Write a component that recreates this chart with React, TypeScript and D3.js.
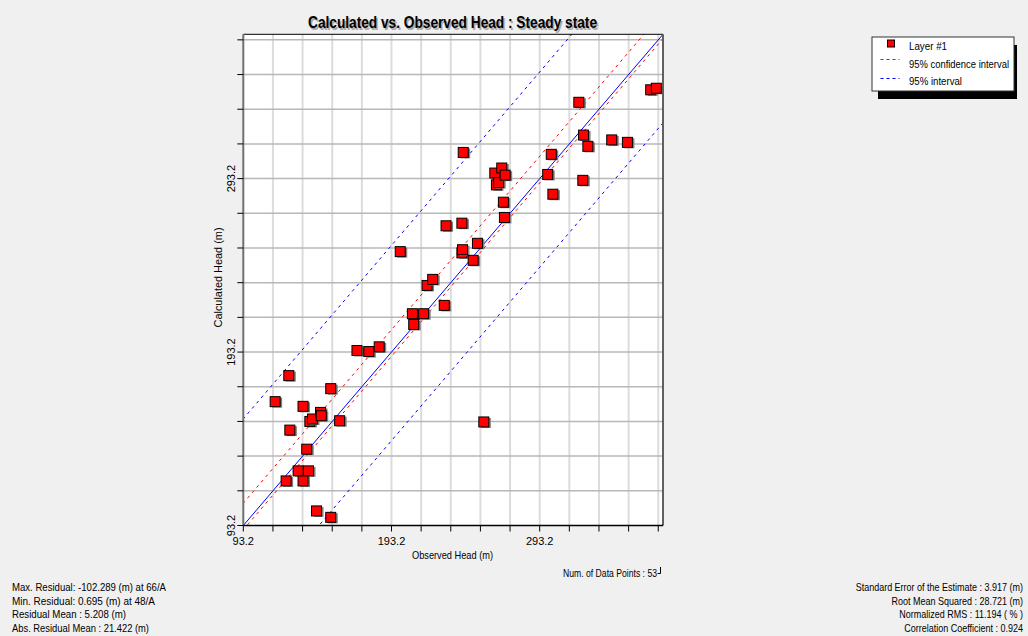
import React from "react";
import * as d3 from "d3";

const observed = [
  114.7, 123.9, 124.6, 133.5, 136.0, 138.1, 139.9, 145.3, 145.8, 152.2,
  158.2, 130.2, 137.2, 122.1, 133.5, 142.6, 152.2, 169.9, 177.9, 184.9,
  199.1, 207.3, 208.2, 214.9, 217.2, 221.0, 228.8, 230.0, 240.7, 240.7,
  241.1, 241.6, 248.3, 251.2, 255.5, 262.9, 264.0, 265.5, 267.6, 269.9,
  268.7, 269.4, 298.6, 301.0, 302.1, 319.6, 322.8, 322.3, 325.7, 341.8,
  352.4, 368.1, 371.9,
];
const calculated = [
  164.6, 179.6, 148.2, 161.9, 137.2, 153.2, 154.6, 158.4, 156.5, 172.1,
  153.6, 124.7, 124.7, 118.9, 118.9, 101.6, 97.9, 194.1, 193.5, 196.2,
  251.1, 215.3, 209.1, 215.3, 231.6, 235.1, 220.1, 266.0, 267.5, 250.4,
  252.2, 308.3, 246.1, 255.9, 152.9, 296.4, 289.6, 290.9, 299.3, 295.2,
  279.6, 270.8, 295.6, 307.2, 284.2, 337.2, 318.3, 292.2, 311.8, 315.5,
  314.1, 344.4, 345.3,
];

const axisMin = 93.2;
const axisMax = 376.4;
const gridStep = 20;
const labelTicks = [93.2, 193.2, 293.2];
const residualMean = 5.208;
const confHalf = 1.96 * 3.917;
const intervalHalf = 1.96 * 28.721;

const titleText = "Calculated vs. Observed Head : Steady state";
const xLabel = "Observed Head (m)";
const yLabel = "Calculated Head (m)";
const legendItems = ["Layer #1", "95% confidence interval", "95% interval"];
const legendWidths = [38, 100, 53];
const leftStats = [
  "Max. Residual: -102.289 (m) at 66/A",
  "Min. Residual: 0.695 (m) at 48/A",
  "Residual Mean : 5.208 (m)",
  "Abs. Residual Mean : 21.422 (m)",
];
const leftWidths = [154, 143, 114, 137];
const rightStats = [
  "Standard Error of the Estimate : 3.917 (m)",
  "Root Mean Squared : 28.721 (m)",
  "Normalized RMS : 11.194 ( % )",
  "Correlation Coefficient : 0.924",
];
const countText = "Num. of Data Points : 53";

export default function App() {
  const W = 1028, H = 636;
  const L = 243.3, R = 663, T = 34.3, B = 525.5;
  const x = d3.scaleLinear().domain([axisMin, axisMax]).range([L, R]);
  const y = d3.scaleLinear().domain([axisMin, axisMax]).range([B, T]);
  const grid = d3.range(axisMin, axisMax + 0.001, gridStep);
  const font = "'Liberation Sans', Arial, sans-serif";

  const lineFor = (off: number) => {
    const g = d3.line<number>().x((v) => x(v)).y((v) => y(v + off));
    return g([axisMin - 80, axisMax + 80]) as string;
  };
  const ms = 10;

  return (
    <svg width={W} height={H} style={{ position: "absolute", left: 0, top: 0, display: "block" }} fontFamily={font}>
      <defs>
        <clipPath id="plotclip">
          <rect x={L} y={T} width={R - L} height={B - T} />
        </clipPath>
      </defs>
      <rect x={0} y={0} width={W} height={H} fill="#f0f0f0" />
      <rect x={L} y={T} width={R - L} height={B - T} fill="#ffffff" />
      {grid.slice(1).map((g, i) => (
        <line key={"vx" + i} x1={x(g)} x2={x(g)} y1={T} y2={B} stroke="#dcdcdc" strokeWidth={2} />
      ))}
      {grid.slice(1).map((g, i) => (
        <line key={"hy" + i} x1={L} x2={R} y1={y(g)} y2={y(g)} stroke="#b8b8b8" strokeWidth={1.5} />
      ))}
      <g clipPath="url(#plotclip)" fill="none">
        <path d={lineFor(residualMean + intervalHalf)} stroke="#0000ff" strokeWidth={1} strokeDasharray="3,4" />
        <path d={lineFor(residualMean - intervalHalf)} stroke="#0000ff" strokeWidth={1} strokeDasharray="3,4" />
        <path d={lineFor(residualMean + confHalf)} stroke="#ff0000" strokeWidth={1} strokeDasharray="3,4" />
        <path d={lineFor(residualMean - confHalf)} stroke="#ff0000" strokeWidth={1} strokeDasharray="3,4" />
        <path d={lineFor(0)} stroke="#0000ff" strokeWidth={1} />
      </g>
      <g clipPath="url(#plotclip)">
        {observed.map((o, i) => (
          <g key={"p" + i}>
            <rect x={x(o) - ms / 2 + 2} y={y(calculated[i]) - ms / 2 + 1} width={ms} height={ms} fill="#808080" />
            <rect x={x(o) - ms / 2} y={y(calculated[i]) - ms / 2} width={ms} height={ms} fill="#ff0000" stroke="#000" strokeWidth={1} />
          </g>
        ))}
      </g>
      <line x1={L} x2={R} y1={T} y2={T} stroke="#000" strokeWidth={1} />
      <line x1={R} x2={R} y1={T} y2={B} stroke="#606060" strokeWidth={2} />
      <line x1={L} x2={L} y1={T} y2={B} stroke="#707070" strokeWidth={2} />
      <line x1={L} x2={R} y1={B} y2={B} stroke="#000" strokeWidth={1.5} />
      {grid.map((g, i) => (
        <line key={"tx" + i} x1={x(g)} x2={x(g)} y1={B} y2={B + 6} stroke="#000" strokeWidth={1} />
      ))}
      {grid.map((g, i) => (
        <line key={"ty" + i} x1={L - 6} x2={L} y1={y(g)} y2={y(g)} stroke="#000" strokeWidth={1} />
      ))}
      {labelTicks.map((t, i) => (
        <text key={"lx" + i} x={x(t)} y={545} fontSize={11} textAnchor="middle" fill="#000">{t.toFixed(1)}</text>
      ))}
      {labelTicks.map((t, i) => (
        <text key={"ly" + i} transform={`translate(235,${y(t)}) rotate(-90)`} fontSize={11} textAnchor="middle" fill="#000">{t.toFixed(1)}</text>
      ))}
      <text x={452.5} y={559} fontSize={10.5} textAnchor="middle" fill="#000" textLength={81} lengthAdjust="spacingAndGlyphs">{xLabel}</text>
      <text transform={`translate(222,277.5) rotate(-90)`} fontSize={10.5} textAnchor="middle" fill="#000" textLength={100} lengthAdjust="spacingAndGlyphs">{yLabel}</text>
      <text x={454} y={29.5} fontSize={16} fontWeight="bold" textAnchor="middle" fill="#a8a8a8" textLength={289} lengthAdjust="spacingAndGlyphs">{titleText}</text>
      <text x={452.5} y={28} fontSize={16} fontWeight="bold" textAnchor="middle" fill="#000" textLength={289} lengthAdjust="spacingAndGlyphs">{titleText}</text>
      <text x={563} y={577} fontSize={10} fill="#000" textLength={94} lengthAdjust="spacingAndGlyphs">{countText}</text>
      <path d="M657.5,573.5 H660.5 V567" fill="none" stroke="#000" strokeWidth={1} />
      <rect x={878} y={45} width={139} height={54} fill="#000" />
      <rect x={872} y={37} width={142} height={54} fill="#fff" stroke="#333" strokeWidth={1} />
      <rect x={887.5} y={40} width={7} height={7} fill="#ff0000" stroke="#000" strokeWidth={1} />
      <line x1={880.5} x2={899.5} y1={59.5} y2={59.5} stroke="#ff0000" strokeWidth={1} strokeDasharray="3,3" />
      <line x1={880.5} x2={899.5} y1={78.5} y2={78.5} stroke="#0000ff" strokeWidth={1} strokeDasharray="3,3" />
      {legendItems.map((t, i) => (
        <text key={"lg" + i} x={909} y={50 + i * 17.5} fontSize={10} fill="#000" textLength={legendWidths[i]} lengthAdjust="spacingAndGlyphs">{t}</text>
      ))}
      {leftStats.map((t, i) => (
        <text key={"ls" + i} x={12} y={591 + i * 13.7} fontSize={10} fill="#000" textLength={leftWidths[i]} lengthAdjust="spacingAndGlyphs">{t}</text>
      ))}
      {rightStats.map((t, i) => (
        <text key={"rs" + i} transform={`translate(1023,${591 + i * 13.7}) scale(0.9,1)`} fontSize={10} textAnchor="end" fill="#000">{t}</text>
      ))}
    </svg>
  );
}
